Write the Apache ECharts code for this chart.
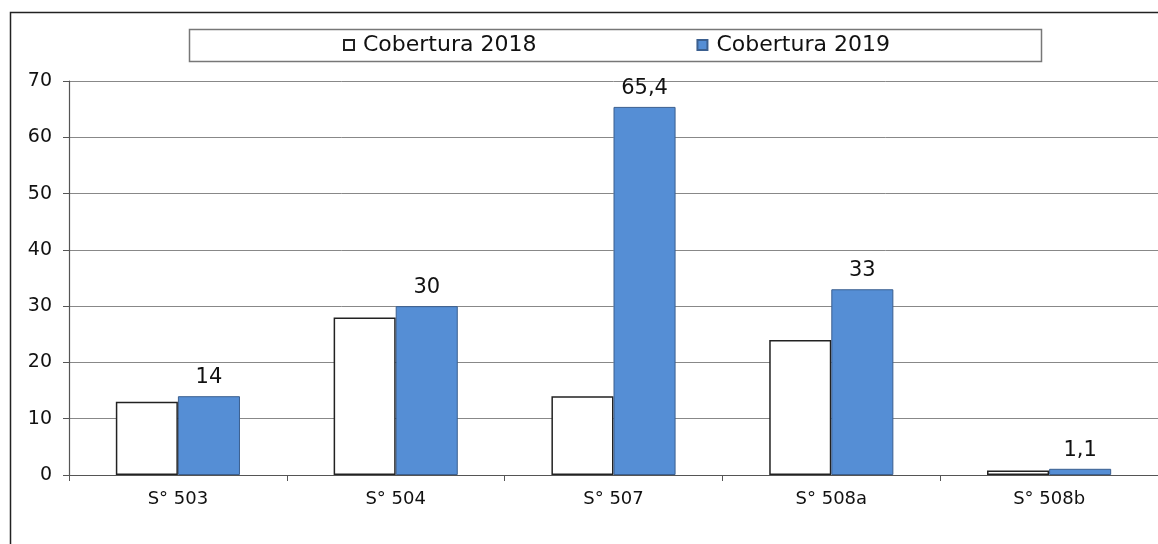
<!DOCTYPE html>
<html>
<head>
<meta charset="utf-8">
<script src="https://cdn.jsdelivr.net/npm/echarts@6/dist/echarts.min.js"></script>
<style>
html,body{margin:0;padding:0;background:#fff;}
#chart{width:1158px;height:544px;}
</style>
</head>
<body>
<div id="chart"></div>
<script>
const categories = ["S\u00b0 503", "S\u00b0 504", "S\u00b0 507", "S\u00b0 508a", "S\u00b0 508b"];
const cobertura2018 = [13, 28, 14, 24, 0.8];
const cobertura2019 = [14, 30, 65.4, 33, 1.1];
const seriesNames = ["Cobertura 2018", "Cobertura 2019"];
const yTicks = { min: 0, max: 70, interval: 10 };

const chart = echarts.init(document.getElementById('chart'), null, { renderer: 'canvas' });
const font = 'DejaVu Sans, Liberation Sans, sans-serif';
chart.setOption({
  animation: false,
  backgroundColor: '#fff',
  graphic: [
    {
      type: 'rect',
      shape: { x: 10.5, y: 12.5, width: 1300, height: 700 },
      style: { fill: 'none', stroke: '#222', lineWidth: 1.5 },
      z: -10
    },
    {
      type: 'rect',
      shape: { x: 189.5, y: 29.5, width: 852, height: 32 },
      style: { fill: 'none', stroke: '#777', lineWidth: 1.5 },
      z: -9
    }
  ],
  legend: {
    left: 343, top: 34,
    padding: 0,
    itemGap: 160,
    itemWidth: 10, itemHeight: 10,
    icon: 'rect',
    textStyle: { fontFamily: font, fontSize: 22, color: '#111', lineHeight: 22, padding: [0, 0, 0, 4] },
    data: seriesNames
  },
  grid: { left: 69, right: 0, top: 81, bottom: 69, containLabel: false },
  xAxis: {
    type: 'category',
    data: categories,
    axisLine: { lineStyle: { color: '#555', width: 1.2 } },
    axisTick: { show: true, length: 6, lineStyle: { color: '#555' } },
    axisLabel: { fontFamily: font, fontSize: 18, color: '#111', margin: 15 }
  },
  yAxis: {
    type: 'value',
    min: yTicks.min, max: yTicks.max, interval: yTicks.interval,
    axisLine: { show: true, lineStyle: { color: '#555', width: 1.2 } },
    axisTick: { show: true, length: 6, lineStyle: { color: '#555' } },
    splitLine: { lineStyle: { color: '#888', width: 1 } },
    axisLabel: { fontFamily: font, fontSize: 19, color: '#111', margin: 17 }
  },
  series: [
    {
      name: seriesNames[0], type: 'bar', data: cobertura2018,
      barGap: '0%', barCategoryGap: '43%',
      itemStyle: { color: '#fff', borderColor: '#222', borderWidth: 1.5 },
      label: { show: false }
    },
    {
      name: seriesNames[1], type: 'bar', data: cobertura2019,
      barGap: '0%', barCategoryGap: '43%',
      itemStyle: { color: '#558ed5', borderColor: '#3b5f8f', borderWidth: 1 },
      label: {
        show: true, position: 'top', distance: 8,
        fontFamily: font, fontSize: 21, color: '#111',
        formatter: p => String(p.value).replace('.', ',')
      }
    }
  ]
});
</script>
</body>
</html>
